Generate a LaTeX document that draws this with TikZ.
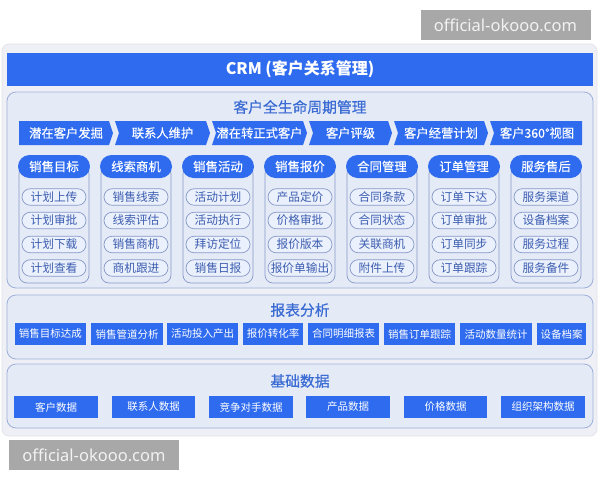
\documentclass[tikz,border=0pt]{standalone}
\usepackage{fontspec}
\setmainfont{Noto Sans CJK SC}
\newfontfamily\medfont{Noto Sans CJK SC}[FakeBold=0.6]
\newfontfamily\semifont{Noto Sans CJK SC}[FakeBold=0.3]
\newfontfamily\wmfont{Noto Sans}
\definecolor{mainblue}{HTML}{2F6BEF}
\definecolor{panelbg}{HTML}{EEF0F5}
\definecolor{panelline}{HTML}{E1E4EB}
\definecolor{secbg}{HTML}{E5EAF7}
\definecolor{secline}{HTML}{9DB0DA}
\definecolor{titleblue}{HTML}{3A6CD3}
\definecolor{itembg}{HTML}{EAF0FC}
\definecolor{itemline}{HTML}{8799C8}
\definecolor{itemtext}{HTML}{3C5DB0}
\definecolor{wmgray}{HTML}{A8A8A8}
\tikzset{
  wmbox/.style={fill=wmgray, text=white!95!black, minimum width=170pt, minimum height=30pt, inner sep=0pt, font=\wmfont\fontsize{16.5}{18}\selectfont},
  sectionbox/.style={fill=secbg, draw=secline, line width=0.8pt, rounded corners=9pt},
  sectitle/.style={text=titleblue, font=\medfont\fontsize{14.8}{16}\selectfont, inner sep=0pt},
  chevtext/.style={text=white, font=\semifont\fontsize{12.3}{14}\selectfont, inner sep=0pt},
  colframe/.style={draw=itemline, line width=0.7pt, rounded corners=8pt},
  colhead/.style={fill=mainblue, text=white, minimum width=72pt, minimum height=23pt, inner sep=0pt, rounded corners=11.5pt, font=\semifont\fontsize{12.4}{14}\selectfont},
  itempill/.style={fill=itembg, draw=itemline, line width=0.7pt, text=itemtext, minimum width=64pt, minimum height=16.5pt, inner sep=0pt, rounded corners=8.2pt, font=\fontsize{11.7}{13}\selectfont},
  repbox/.style={fill=mainblue, text=white, minimum height=22pt, inner sep=0pt, font=\fontsize{10.5}{12}\selectfont},
}
\begin{document}
\begin{tikzpicture}[x=1pt,y=-1pt]
\useasboundingbox (0,0) rectangle (600,480);
\fill[white] (0,0) rectangle (600,480);
% watermarks
\node[wmbox] (wmtop) at (505.5,25) {official-okooo.com};
% outer panel
\draw[fill=panelbg, draw=panelline, line width=0.8pt, rounded corners=7pt] (2,44) rectangle (597,436);
\node[wmbox] (wmbottom) at (94,455) {official-okooo.com};
% CRM bar
\node[fill=mainblue, text=white, minimum width=586pt, minimum height=33pt, inner sep=0pt, font=\bfseries\fontsize{16}{18}\selectfont] (crm) at (300,69.5) {CRM (客户关系管理)};
% section 1
\draw[sectionbox] (7,92) rectangle (593,288);
\node[sectitle] (t1) at (300,107) {客户全生命周期管理};
% chevrons
\foreach \n/\L/\R/\txt in {1/19/113/潜在客户发掘, 2/115/210/联系人维护, 3/212/307/潜在转正式客户, 4/309/392/客户评级, 5/394/488/客户经营计划} {
  \ifnum\n=1
    \fill[mainblue] (\L,121) -- (\R-4,121) -- (\R,133) -- (\R-4,145) -- (\L,145) -- cycle;
  \else
    \fill[mainblue] (\L,121) -- (\R-4,121) -- (\R,133) -- (\R-4,145) -- (\L,145) -- (\L+4,133) -- cycle;
  \fi
  \node[chevtext] (ch\n) at ({(\L+\R)/2},133) {\txt};
}
\fill[mainblue] (490,121) -- (582,121) -- (582,145) -- (490,145) -- (494,133) -- cycle;
\node[chevtext] (ch6) at (537,133) {客户360°视图};
% module columns
\foreach \i/\head/\a/\b/\c/\d in {
  0/销售目标/计划上传/计划审批/计划下载/计划查看,
  1/线索商机/销售线索/线索评估/销售商机/商机跟进,
  2/销售活动/活动计划/活动执行/拜访定位/销售日报,
  3/销售报价/产品定价/价格审批/报价版本/报价单输出,
  4/合同管理/合同条款/合同状态/关联商机/附件上传,
  5/订单管理/订单下达/订单审批/订单同步/订单跟踪,
  6/服务售后/服务渠道/设备档案/服务过程/服务备件} {
  \pgfmathsetmacro\L{18+82*\i}
  \draw[colframe] (\L+1,166) rectangle (\L+71,283);
  \node[colhead] (h\i) at (\L+36,166.5) {\head};
  \node[itempill] (h\i a) at (\L+36,197) {\a};
  \node[itempill] (h\i b) at (\L+36,220.5) {\b};
  \node[itempill] (h\i c) at (\L+36,244.5) {\c};
  \node[itempill] (h\i d) at (\L+36,268) {\d};
}
% section 2
\draw[sectionbox] (7,295) rectangle (593,359);
\node[sectitle] (t2) at (300,310) {报表分析};
\foreach \n/\L/\R/\txt in {1/14.5/86/销售目标达成, 2/91/163/销售管道分析, 3/167/238/活动投入产出, 4/243/303/报价转化率, 5/308/379/合同明细报表, 6/384/455/销售订单跟踪, 7/460/532/活动数量统计, 8/537/586/设备档案} {
  \node[repbox, minimum width={(\R-\L)*1pt}] (r\n) at ({(\L+\R)/2},334) {\txt};
}
% section 3
\draw[sectionbox] (7,364) rectangle (593,428);
\node[sectitle] (t3) at (300,381) {基础数据};
\foreach \n/\L/\R/\txt in {1/14/98/客户数据, 2/112/195/联系人数据, 3/209/293/竞争对手数据, 4/306/390/产品数据, 5/404/487/价格数据, 6/501/585/组织架构数据} {
  \node[repbox, minimum width={(\R-\L)*1pt}] (b\n) at ({(\L+\R)/2},407) {\txt};
}
\end{tikzpicture}
\end{document}
